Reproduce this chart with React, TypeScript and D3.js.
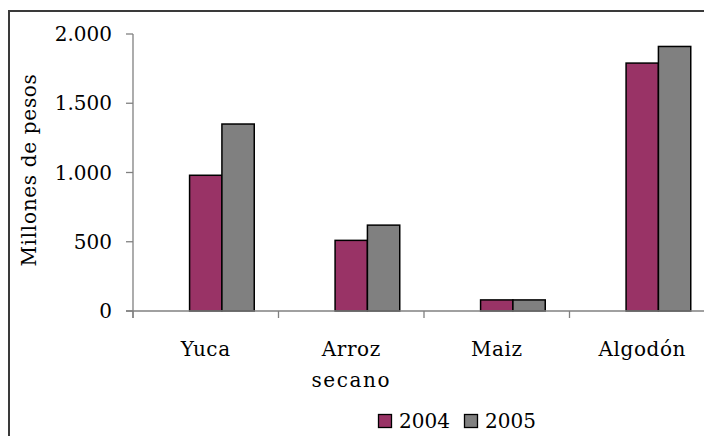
import React from "react";
import * as d3 from "d3";

const categories: string[][] = [["Yuca"], ["Arroz", "secano"], ["Maiz"], ["Algodón"]];
const series = ["2004", "2005"];
const values2004 = [980, 510, 80, 1790];
const values2005 = [1350, 620, 80, 1910];
const yTicks = [0, 500, 1000, 1500, 2000];
const colors = ["#993366", "#808080"];

const W = 704;
const H = 436;
const FONT = "'DejaVu Serif', serif";

export default function App() {
  const left = 133;
  const catW = 145.5;
  const x = d3.scaleBand<number>().domain(d3.range(categories.length)).range([left, left + catW * categories.length]).padding(0);
  const slots = ["_", ...series];
  const inner = d3.scaleBand<string>().domain(slots).range([0, x.bandwidth()]).paddingInner(0).paddingOuter(0.75);
  const y = d3.scaleLinear().domain([0, 2000]).range([311, 34]);
  const fmt = (v: number) => d3.format(",")(v).replace(/,/g, ".");
  const axisColor = "#808080";
  const data = [values2004, values2005];

  return (
    <svg width={W} height={H} style={{ position: "absolute", left: 0, top: 0, background: "#fff" }} fontFamily={FONT}>
      <rect x={0} y={0} width={W} height={H} fill="#fff" />
      {/* frame */}
      <path d={`M9,${H + 5} L9,11 L${W + 5},11`} fill="none" stroke="#3a3a3a" strokeWidth={2} />
      {/* y axis */}
      <line x1={left} x2={left} y1={y(2000)} y2={y(0) + 7} stroke={axisColor} strokeWidth={1.3} />
      {yTicks.map((t) => (
        <g key={t}>
          <line x1={left - 7} x2={left} y1={y(t)} y2={y(t)} stroke={axisColor} strokeWidth={1.3} />
          <text x={112} y={y(t)} dy="0.36em" textAnchor="end" fontSize={20} fill="#000">
            {fmt(t)}
          </text>
        </g>
      ))}
      {/* bars */}
      {categories.map((_, i) => (
        <g key={i}>
          {series.map((s, j) => (
            <rect
              key={s}
              x={(x(i) as number) + (inner(s) as number)}
              y={y(data[j][i])}
              width={inner.bandwidth()}
              height={y(0) - y(data[j][i])}
              fill={colors[j]}
              stroke="#000"
              strokeWidth={1.5}
            />
          ))}
        </g>
      ))}
      {/* x axis */}
      <line x1={left - 7} x2={left + catW * categories.length} y1={y(0)} y2={y(0)} stroke={axisColor} strokeWidth={1.3} />
      {categories.map((_, i) => (
        <line key={i} x1={x(i) as number} x2={x(i) as number} y1={y(0)} y2={y(0) + 7} stroke={axisColor} strokeWidth={1.3} />
      ))}
      {categories.map((lines, i) => (
        <text key={i} textAnchor="middle" fontSize={20} fill="#000" letterSpacing={0.6}>
          {lines.map((l, k) => (
            <tspan key={k} x={(x(i) as number) + x.bandwidth() / 2} y={356 + k * 31} letterSpacing={k > 0 ? 1.6 : 0.6}>
              {l}
            </tspan>
          ))}
        </text>
      ))}
      {/* y label */}
      <text transform={`translate(36,170) rotate(-90)`} textAnchor="middle" fontSize={20} fill="#000" letterSpacing={0.7}>
        Millones de pesos
      </text>
      {/* legend */}
      {series.map((s, j) => (
        <g key={s} transform={`translate(${378 + j * 86},414)`}>
          <rect x={0.5} y={0.5} width={13} height={13} fill={colors[j]} stroke="#000" strokeWidth={1.3} />
          <text x={21} y={14} fontSize={20} fill="#000">
            {s}
          </text>
        </g>
      ))}
    </svg>
  );
}
